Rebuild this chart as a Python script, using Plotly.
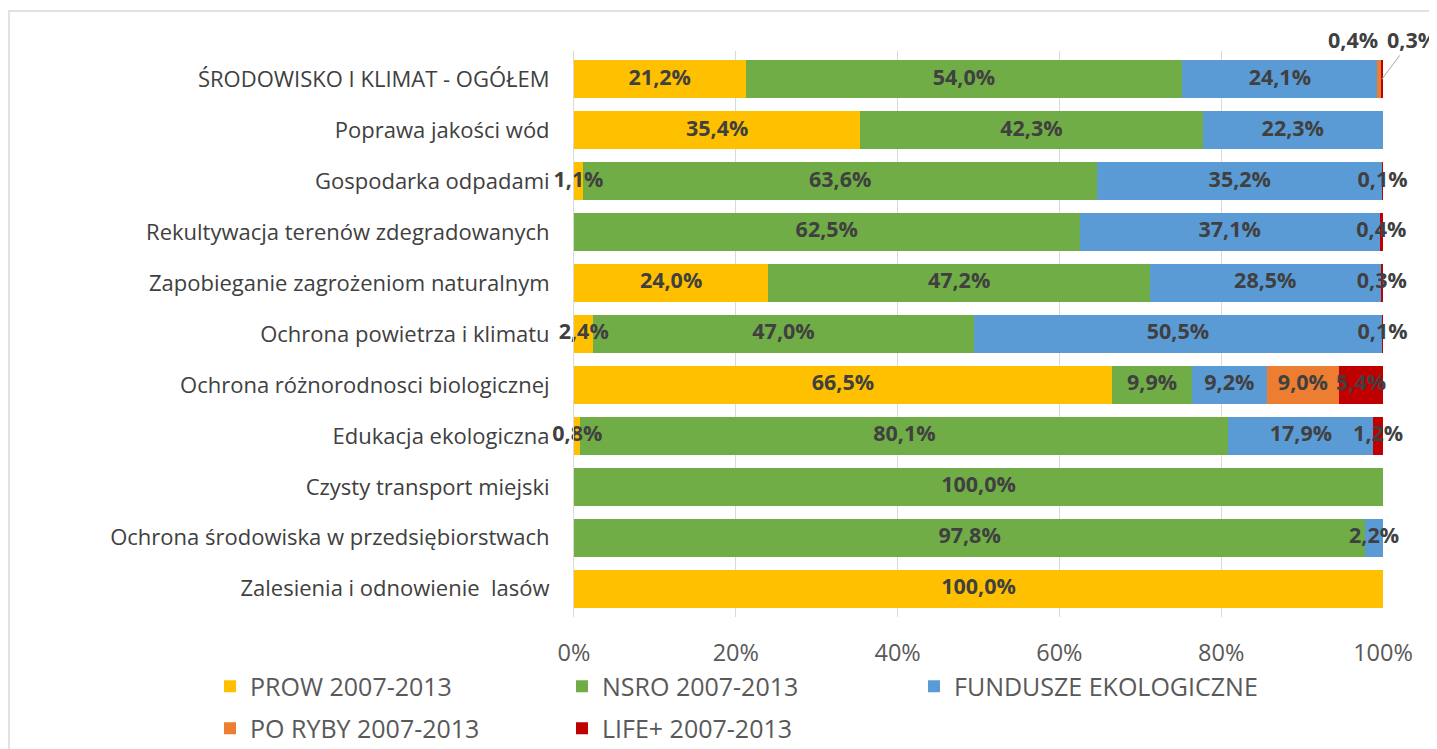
import plotly.graph_objects as go

categories = [
    "ŚRODOWISKO I KLIMAT - OGÓŁEM",
    "Poprawa jakości wód",
    "Gospodarka odpadami",
    "Rekultywacja terenów zdegradowanych",
    "Zapobieganie zagrożeniom naturalnym",
    "Ochrona powietrza i klimatu",
    "Ochrona różnorodnosci biologicznej",
    "Edukacja ekologiczna",
    "Czysty transport miejski",
    "Ochrona środowiska w przedsiębiorstwach",
    "Zalesienia i odnowienie \u00a0lasów",
]
series_names = ["PROW 2007-2013", "NSRO 2007-2013", "FUNDUSZE EKOLOGICZNE",
                "PO RYBY 2007-2013", "LIFE+ 2007-2013"]
prow = [21.2, 35.4, 1.1, 0.0, 24.0, 2.4, 66.5, 0.8, 0.0, 0.0, 100.0]
nsro = [54.0, 42.3, 63.6, 62.5, 47.2, 47.0, 9.9, 80.1, 100.0, 97.8, 0.0]
fundusze = [24.1, 22.3, 35.2, 37.1, 28.5, 50.5, 9.2, 17.9, 0.0, 2.2, 0.0]
po_ryby = [0.4, 0.0, 0.0, 0.0, 0.0, 0.0, 9.0, 0.0, 0.0, 0.0, 0.0]
life = [0.3, 0.04, 0.1, 0.4, 0.3, 0.1, 5.4, 1.2, 0.0, 0.0, 0.0]
colors = ["#FFC000", "#70AD47", "#5B9BD5", "#ED7D31", "#C00000"]
legend_ids = ["legend", "legend", "legend", "legend2", "legend2"]
tick_vals = [0, 20, 40, 60, 80, 100]
tick_text = ["0%", "20%", "40%", "60%", "80%", "100%"]

series = [prow, nsro, fundusze, po_ryby, life]
FONT = "Open Sans, Lato, sans-serif"
LABEL_FONT = dict(family=FONT, size=21.5, color="#404040", weight="bold")

def fmt(v):
    return f"{v:.1f}%".replace(".", ",")

fig = go.Figure()
for name, vals, col, lg in zip(series_names, series, colors, legend_ids):
    fig.add_trace(go.Bar(
        y=categories, x=vals, name=name, orientation="h",
        marker=dict(color=col, line=dict(width=0)),
        hoverinfo="skip", legend=lg,
    ))

# data labels at segment centres (first row's last two segments are moved above)
lx, ly, lt = [], [], []
cum = [0.0] * len(categories)
for si, vals in enumerate(series):
    for ci, v in enumerate(vals):
        if v >= 0.05 and not (ci == 0 and si >= 3):
            lx.append(cum[ci] + v / 2)
            ly.append(categories[ci])
            lt.append(fmt(v))
        cum[ci] += v
fig.add_trace(go.Scatter(
    x=lx, y=ly, text=lt, mode="text", showlegend=False, hoverinfo="skip",
    textfont=LABEL_FONT, cliponaxis=False,
))

# moved labels for first row
top_po = prow[0] + nsro[0] + fundusze[0] + po_ryby[0] / 2
top_life = prow[0] + nsro[0] + fundusze[0] + po_ryby[0] + life[0] / 2
fig.add_annotation(x=top_po, y=categories[0], text=fmt(po_ryby[0]),
                   showarrow=False, xshift=-26, yshift=40, font=LABEL_FONT)
fig.add_annotation(x=top_life, y=categories[0], text=fmt(life[0]),
                   showarrow=True, arrowhead=0, arrowwidth=1, arrowcolor="#A6A6A6",
                   ax=30, ay=-40, standoff=0, font=LABEL_FONT)

# geometry (figure pixels)
L, R, T, B = 566, 62, 43, 139.5
PW, PH = 1437 - L - R, 749 - T - B

# outer chart border
fig.add_shape(type="rect", xref="paper", yref="paper",
              x0=(1 - L) / PW, x1=(1450 - L) / PW,
              y0=-(770 - (749 - B)) / PH, y1=1 + (T - 3) / PH,
              line=dict(color="#D9D9D9", width=1.5), fillcolor="rgba(0,0,0,0)",
              layer="below")

leg_common = dict(orientation="h", xref="paper", yref="paper",
                  x=(202 - L) / PW, xanchor="left", yanchor="middle",
                  entrywidth=307, entrywidthmode="pixels",
                  font=dict(size=25, color="#595959"), traceorder="normal")

fig.update_layout(
    width=1437, height=749,
    barmode="stack", bargap=0.26,
    plot_bgcolor="white", paper_bgcolor="white",
    margin=dict(l=L, r=R, t=T, b=B, autoexpand=False),
    font=dict(family=FONT, color="#595959"),
    xaxis=dict(range=[0, 100], tickvals=tick_vals, ticktext=tick_text,
               showgrid=True, gridcolor="#D9D9D9", gridwidth=1,
               zeroline=False, showline=False, ticks="",
               tickfont=dict(size=23.5, color="#595959"), ticklabelstandoff=19,
               fixedrange=True),
    yaxis=dict(autorange="reversed", showgrid=False, zeroline=False,
               showline=True, linecolor="#D9D9D9", linewidth=1, ticks="",
               tickfont=dict(size=22, color="#404040"), ticklabelstandoff=19),
    legend=dict(leg_common, y=((749 - B) - 679) / PH),
    legend2=dict(leg_common, y=((749 - B) - 721) / PH),
    showlegend=True,
)

fig.write_html("out.html")
